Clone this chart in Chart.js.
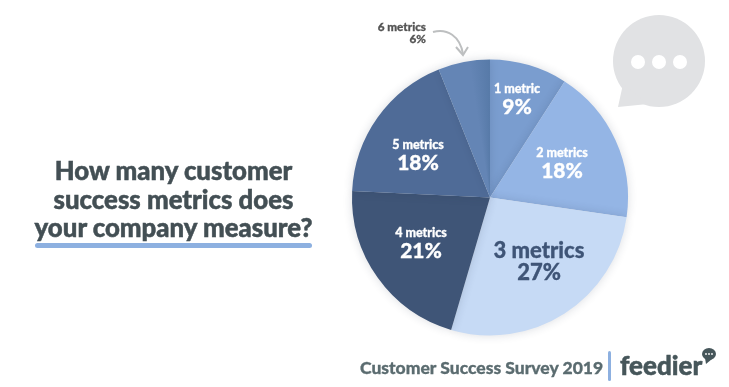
<!DOCTYPE html>
<html>
<head>
<meta charset="utf-8">
<script src="https://cdn.jsdelivr.net/npm/chart.js@4.4.2/dist/chart.umd.js"></script>
<style>
  html, body { margin: 0; padding: 0; background: #fff; }
  #wrap { position: relative; width: 729px; height: 387px; overflow: hidden; font-family: Lato, sans-serif; }
  #pie { position: absolute; left: 0; top: 0; }
  #title { position: absolute; left: 20px; top: 156px; width: 307px; text-align: center; color: #434f54; font-size: 25.8px; line-height: 28.5px; font-weight: 900; -webkit-text-stroke: 0.5px #434f54; }
  #underline { position: absolute; left: 35px; top: 243px; width: 277px; height: 5px; border-radius: 3px; background: #8db0e0; }
  #footer { position: absolute; left: 360px; top: 357px; color: #5b6c70; font-size: 17.5px; line-height: 22px; font-weight: 900; white-space: nowrap; -webkit-text-stroke: 0.3px #5b6c70; }
  #divider { position: absolute; left: 608px; top: 351px; width: 3px; height: 30px; border-radius: 2px; background: #8db0e0; }
  #logo { position: absolute; left: 620px; top: 347px; color: #46565a; font-size: 26px; line-height: 36px; font-weight: 900; -webkit-text-stroke: 0.5px #46565a; }
  svg { position: absolute; left: 0; top: 0; }
</style>
</head>
<body>
<div id="wrap">
  <canvas id="pie" width="729" height="387"></canvas>
  <svg width="729" height="387">
    <path d="M433 32 C447 28 460 36 463 54" fill="none" stroke="#bdbfc0" stroke-width="2"/>
    <path d="M456 47 L463 55 L468 47" fill="none" stroke="#bdbfc0" stroke-width="2"/>
    <circle cx="659" cy="61" r="46" fill="#e1e2e4"/>
    <path d="M618 107 L623 84 L648 104 Z" fill="#e1e2e4"/>
    <circle cx="638" cy="62" r="7" fill="#fff"/>
    <circle cx="659" cy="62" r="7" fill="#fff"/>
    <circle cx="680" cy="62" r="7" fill="#fff"/>
    <ellipse cx="709" cy="354" rx="7" ry="6" fill="#46565a"/>
    <path d="M705 358 L706 364 L712 359 Z" fill="#46565a"/>
    <circle cx="706" cy="354" r="0.9" fill="#fff"/>
    <circle cx="709" cy="354" r="0.9" fill="#fff"/>
    <circle cx="712" cy="354" r="0.9" fill="#fff"/>
  </svg>
  <div id="title">How many customer<br>success metrics does<br>your company measure?</div>
  <div id="underline"></div>
  <div id="footer">Customer Success Survey 2019</div>
  <div id="divider"></div>
  <div id="logo">feedier</div>
</div>
<script>
const categories = ['1 metric', '2 metrics', '3 metrics', '4 metrics', '5 metrics', '6 metrics'];
const percents = [9, 18, 27, 21, 18, 6];
const sliceColors = ['#7a9dcf', '#94b5e5', '#c6daf5', '#3f5577', '#4f6b97', '#6485b5'];

// label placement relative to the pie centre
const labelSpots = [
  { dx: 27, dy: -109, gap: 19, small: 12.5, big: 21, color: '#fff' },
  { dx: 72, dy: -45, gap: 19, small: 12.5, big: 21, color: '#fff' },
  { dx: 49, dy: 53.5, gap: 22, small: 22, big: 22, color: '#3f5577' },
  { dx: -69, dy: 35, gap: 19, small: 12.5, big: 21, color: '#fff' },
  { dx: -72, dy: -53, gap: 19, small: 12.5, big: 21, color: '#fff' },
  { dx: -64, dy: -170.5, gap: 12, small: 11.7, big: 11.7, color: '#555' }
];

const sliceLabels = {
  id: 'sliceLabels',
  beforeDatasetsDraw(chart) {
    chart.ctx.save();
    chart.ctx.shadowColor = 'rgba(30,45,70,0.16)';
    chart.ctx.shadowBlur = 10;
  },
  afterDatasetsDraw(chart) {
    const ctx = chart.ctx;
    ctx.restore();
    const arc = chart.getDatasetMeta(0).data[0];
    categories.forEach((name, i) => {
      const s = labelSpots[i];
      ctx.fillStyle = s.color;
      ctx.strokeStyle = s.color;
      ctx.lineWidth = 0.3;
      ctx.textBaseline = 'middle';
      ctx.textAlign = i === 5 ? 'right' : 'center';
      ctx.font = '900 ' + s.small + 'px Lato';
      ctx.fillText(name, arc.x + s.dx, arc.y + s.dy);
      ctx.strokeText(name, arc.x + s.dx, arc.y + s.dy);
      ctx.font = '900 ' + s.big + 'px Lato';
      ctx.fillText(percents[i] + '%', arc.x + s.dx, arc.y + s.dy + s.gap);
      ctx.strokeText(percents[i] + '%', arc.x + s.dx, arc.y + s.dy + s.gap);
    });
  }
};

// the last slice has nothing drawn over it, so its darker edge is a gradient
function sliceFill(context) {
  const area = context.chart.chartArea;
  if (context.dataIndex !== 5 || !area) {
    return sliceColors[context.dataIndex];
  }
  const total = percents.reduce((a, b) => a + b, 0);
  const share = percents[5] / total;
  const start = -Math.PI / 2 - share * Math.PI * 2;
  const gradient = context.chart.ctx.createConicGradient(start, (area.left + area.right) / 2, (area.top + area.bottom) / 2);
  gradient.addColorStop(0, sliceColors[5]);
  gradient.addColorStop(share * 0.6, sliceColors[5]);
  gradient.addColorStop(share, '#577aa8');
  gradient.addColorStop(1, '#577aa8');
  return gradient;
}

new Chart(document.getElementById('pie'), {
  type: 'pie',
  data: {
    labels: categories,
    datasets: [{
      data: percents,
      backgroundColor: sliceFill,
      borderWidth: 0
    }]
  },
  options: {
    responsive: false,
    animation: false,
    layout: { padding: { left: 352, right: 101, top: 59, bottom: 51 } },
    plugins: { legend: { display: false }, tooltip: { enabled: false } }
  },
  plugins: [sliceLabels]
});
</script>
</body>
</html>
